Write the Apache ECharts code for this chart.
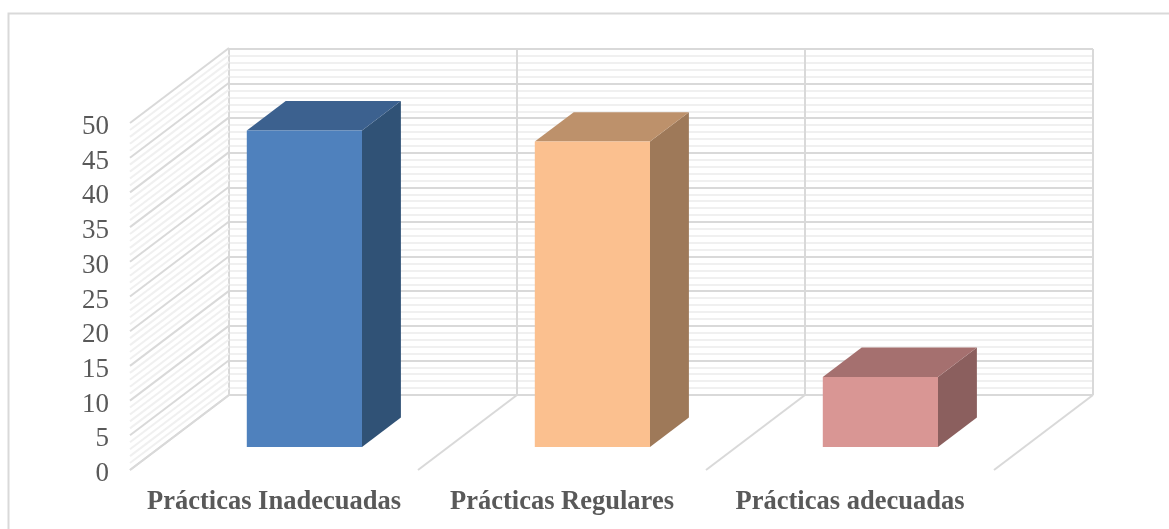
<!DOCTYPE html>
<html>
<head>
<meta charset="utf-8">
<style>
  html, body { margin: 0; padding: 0; background: #fff; }
  #chart { width: 1169px; height: 529px; }
</style>
<script src="https://cdn.jsdelivr.net/npm/echarts@6/dist/echarts.min.js"></script>
</head>
<body>
<div id="chart"></div>
<script>
const categories = ['Prácticas Inadecuadas', 'Prácticas Regulares', 'Prácticas adecuadas'];
const barValues = [45.6, 44, 10.1];
const frontColors = ['#4f81bd', '#fbc08f', '#d99694'];
const topColors = ['#3c618f', '#bd916b', '#a5706f'];
const sideColors = ['#305276', '#9e7959', '#8b5f5e'];
const floorBoundaries = [0, 1, 2, 3];
const sideGridValues = [0,1,2,3,4,5,6,7,8,9,10,11,12,13,14,15,16,17,18,19,20,21,22,23,24,25,
  26,27,28,29,30,31,32,33,34,35,36,37,38,39,40,41,42,43,44,45,46,47,48,49,50];

// Oblique projection: how far the full floor depth shifts a point.
const depthX = 99;
const depthY = -75;
// Bars stand between these fractions of the floor depth.
const barNear = 0.307;
const barFar = 0.70;
const barWidthRatio = 0.4;

const major = '#d9d9d9';
const minor = '#f0f0f0';

function lineEl(x1, y1, x2, y2, color, width) {
  return { type: 'line', shape: { x1, y1, x2, y2 }, style: { stroke: color, lineWidth: width, fill: null } };
}
function polyEl(points, color) {
  return { type: 'polygon', shape: { points }, style: { fill: color, stroke: null } };
}

function renderSideWall(params, api) {
  const v = api.value(1);
  const p = api.coord([0, v]);
  const x = p[0] - api.size([1, 0])[0] / 2;
  const isMajor = v % 5 === 0;
  return lineEl(x, p[1], x + depthX, p[1] + depthY, isMajor ? major : minor, 2);
}

function renderFloor(params, api) {
  const p = api.coord([0, 0]);
  const band = api.size([1, 0])[0];
  const x = p[0] - band / 2 + api.value(0) * band;
  return lineEl(x, p[1], x + depthX, p[1] + depthY, major, 2);
}

function renderBar(params, api) {
  const i = params.dataIndex;
  const base = api.coord([i, 0]);
  const head = api.coord([i, api.value(1)]);
  const half = api.size([1, 0])[0] * barWidthRatio / 2;
  const nx = depthX * barNear, ny = depthY * barNear;
  const fx = depthX * (barFar - barNear), fy = depthY * (barFar - barNear);
  const l = base[0] + nx - half, r = base[0] + nx + half;
  const b = base[1] + ny, t = head[1] + ny;
  return {
    type: 'group',
    children: [
      polyEl([[r, b], [r + fx, b + fy], [r + fx, t + fy], [r, t]], sideColors[i]),
      polyEl([[l, t], [r, t], [r + fx, t + fy], [l + fx, t + fy]], topColors[i]),
      polyEl([[l, b], [r, b], [r, t], [l, t]], frontColors[i])
    ]
  };
}

const chart = echarts.init(document.getElementById('chart'), null, { renderer: 'canvas' });
chart.setOption({
  animation: false,
  backgroundColor: '#fff',
  graphic: [{
    type: 'polyline',
    shape: { points: [[8.5, 529], [8.5, 13.5], [1169, 13.5]] },
    style: { stroke: major, lineWidth: 2, fill: null },
    silent: true
  }],
  grid: [
    { left: 130, width: 864, top: 123, height: 347 },
    { left: 229, width: 864, top: 49, height: 346 }
  ],
  xAxis: [
    {
      gridIndex: 0, type: 'category', data: categories,
      axisLine: { show: false }, axisTick: { show: false },
      axisLabel: {
        interval: 0, margin: 19, color: '#595959',
        fontFamily: 'Liberation Serif', fontWeight: 'bold', fontSize: 26.5
      }
    },
    {
      gridIndex: 1, type: 'category', data: categories,
      axisLine: { show: false }, axisTick: { show: false }, axisLabel: { show: false },
      splitLine: { show: true, interval: 0, lineStyle: { color: major, width: 2 } }
    }
  ],
  yAxis: [
    {
      gridIndex: 0, type: 'value', min: 0, max: 50, interval: 5,
      axisLine: { show: false }, axisTick: { show: false }, splitLine: { show: false },
      axisLabel: {
        margin: 21,
        formatter: '{tick|{value}}',
        rich: {
          tick: {
            padding: [8, 0, 0, 0], color: '#595959',
            fontFamily: 'Liberation Serif', fontSize: 27
          }
        }
      }
    },
    {
      gridIndex: 1, type: 'value', min: 0, max: 50, interval: 5,
      axisLine: { show: false }, axisTick: { show: false }, axisLabel: { show: false },
      splitLine: { show: true, lineStyle: { color: major, width: 2 } },
      minorTick: { show: false, splitNumber: 5 },
      minorSplitLine: { show: true, lineStyle: { color: minor, width: 2 } }
    }
  ],
  series: [
    {
      type: 'custom', xAxisIndex: 0, yAxisIndex: 0, silent: true, z: 1, clip: false,
      encode: { x: 0, y: 1 },
      data: sideGridValues.map(v => [0, v]),
      renderItem: renderSideWall
    },
    {
      type: 'custom', xAxisIndex: 0, yAxisIndex: 0, silent: true, z: 1, clip: false,
      encode: { x: 2, y: 1 },
      data: floorBoundaries.map(b => [b, 0, 0]),
      renderItem: renderFloor
    },
    {
      type: 'custom', xAxisIndex: 0, yAxisIndex: 0, z: 3, clip: false,
      encode: { x: 0, y: 1 },
      data: barValues.map((v, i) => [i, v]),
      renderItem: renderBar
    }
  ]
});
</script>
</body>
</html>
